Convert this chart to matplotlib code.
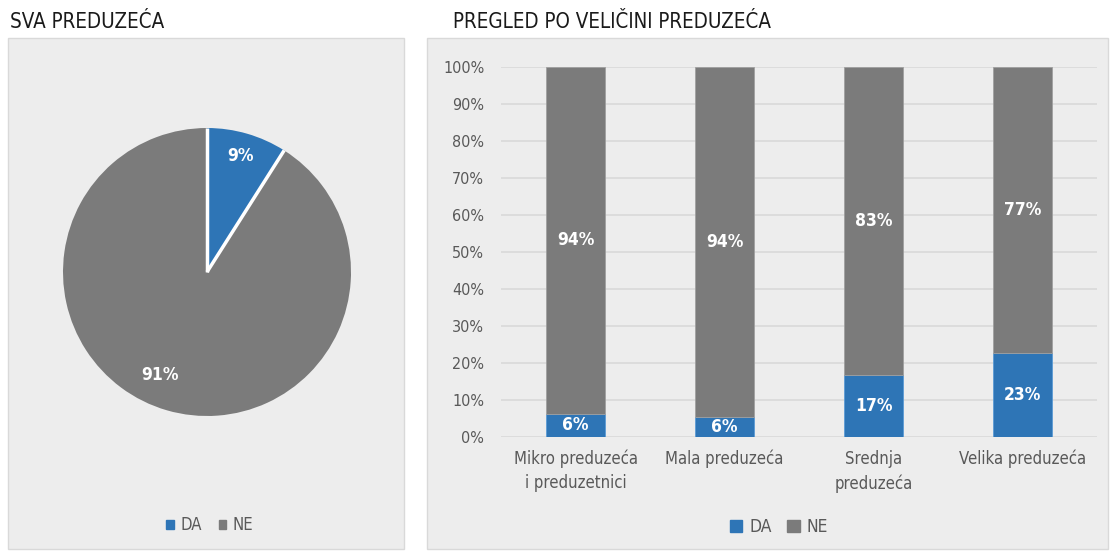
import matplotlib.pyplot as plt
from matplotlib.patches import Rectangle, Patch
import numpy as np

# Data
pie_labels = ["DA", "NE"]
pie_values = [9, 91]

categories = ["Mikro preduzeća\ni preduzetnici", "Mala preduzeća", "Srednja\npreduzeća", "Velika preduzeća"]
da_values = [6.3, 5.5, 16.7, 22.8]
ne_values = [93.7, 94.5, 83.3, 77.2]
da_text = ["6%", "6%", "17%", "23%"]
ne_text = ["94%", "94%", "83%", "77%"]
yticks = [0, 10, 20, 30, 40, 50, 60, 70, 80, 90, 100]

BLUE = "#2e75b6"
GRAY = "#7b7b7b"
BG = "#ededed"
W, H = 1110, 551

plt.rcParams['font.family'] = ['DejaVu Sans']
plt.rcParams['font.stretch'] = 'condensed'

fig = plt.figure(figsize=(W / 100, H / 100), dpi=100)
fig.patch.set_facecolor("white")


def px(x0, y0, x1, y1):
    # pixel box (top-left origin) -> figure fraction [l, b, w, h]
    return [x0 / W, 1 - y1 / H, (x1 - x0) / W, (y1 - y0) / H]


# background panels
for x0, x1 in [(8, 404), (427, 1108)]:
    l, b, w, h = px(x0, 38, x1, 549)
    fig.patches.append(Rectangle((l, b), w, h, transform=fig.transFigure, zorder=-5,
                                 facecolor=BG, edgecolor="#d9d9d9", lw=1))

# titles
fig.text(10 / W, 1 - 22 / H, "SVA PREDUZEĆA", fontsize=14.8, color="#1a1a1a", va="center", ha="left")
fig.text(453 / W, 1 - 22 / H, "PREGLED PO VELIČINI PREDUZEĆA", fontsize=14.8, color="#1a1a1a",
         va="center", ha="left")

# pie
ax1 = fig.add_axes(px(63, 128, 351, 416))
wedges, texts, autotexts = ax1.pie(pie_values, colors=[BLUE, GRAY], startangle=90, counterclock=False,
                                   autopct="%d%%", pctdistance=0.84,
                                   wedgeprops=dict(edgecolor="white", linewidth=2.5),
                                   textprops=dict(color="white", fontsize=12.5, fontweight="bold"))
# Excel puts the big slice label off the bisector
ang = np.deg2rad(-114.5)
autotexts[1].set_position((0.785 * np.cos(ang), 0.785 * np.sin(ang)))
for w_ in wedges:
    w_.set_linewidth(0)
for t in np.cumsum([0] + pie_values[:-1]):
    a = np.deg2rad(90 - t * 3.6)
    ax1.plot([0, np.cos(a)], [0, np.sin(a)], color="white", lw=2.5, solid_capstyle="butt")
ax1.set_xlim(-1, 1)
ax1.set_ylim(-1, 1)
ax1.set_aspect("equal")
ax1.axis("off")
fig.legend(handles=[Patch(color=BLUE, label="DA"), Patch(color=GRAY, label="NE")],
           loc="center", bbox_to_anchor=(210 / W, 1 - 525 / H), ncol=2, frameon=False,
           handlelength=0.45, handleheight=0.45, handletextpad=0.4, columnspacing=1.0,
           fontsize=12, labelcolor="#595959")

# stacked bars
ax2 = fig.add_axes(px(501, 67, 1097, 437))
ax2.set_facecolor(BG)
x = np.arange(len(categories))
b1 = ax2.bar(x, da_values, width=0.4, color=BLUE, edgecolor="#5b9bd5", linewidth=0.6, zorder=3)
b2 = ax2.bar(x, ne_values, width=0.4, bottom=da_values, color=GRAY, edgecolor="#a0a0a0",
             linewidth=0.6, zorder=3)
ax2.bar_label(b1, labels=da_text, label_type="center", color="white", fontsize=12.5, fontweight="bold")
ax2.bar_label(b2, labels=ne_text, label_type="center", color="white", fontsize=12.5, fontweight="bold")
ax2.set_xlim(-0.5, 3.5)
ax2.set_ylim(0, 100)
ax2.set_yticks(yticks)
ax2.set_yticklabels([f"{t}%" for t in yticks])
ax2.set_xticks(x)
ax2.set_xticklabels(categories, linespacing=1.45)
ax2.yaxis.grid(True, color="#d9d9d9", linewidth=1.2, zorder=0)
ax2.set_axisbelow(True)
for s in ax2.spines.values():
    s.set_visible(False)
ax2.tick_params(axis="y", length=0, labelsize=11.5, labelcolor="#595959", pad=12)
ax2.tick_params(axis="x", length=0, labelsize=12, labelcolor="#595959", pad=9)
fig.legend(handles=[Patch(color=BLUE, label="DA"), Patch(color=GRAY, label="NE")],
           loc="center", bbox_to_anchor=(779 / W, 1 - 527 / H), ncol=2, frameon=False,
           handlelength=0.7, handleheight=0.7, handletextpad=0.4, columnspacing=0.9,
           fontsize=12.5, labelcolor="#595959")

fig.savefig("out.png", dpi=100, facecolor="white")
